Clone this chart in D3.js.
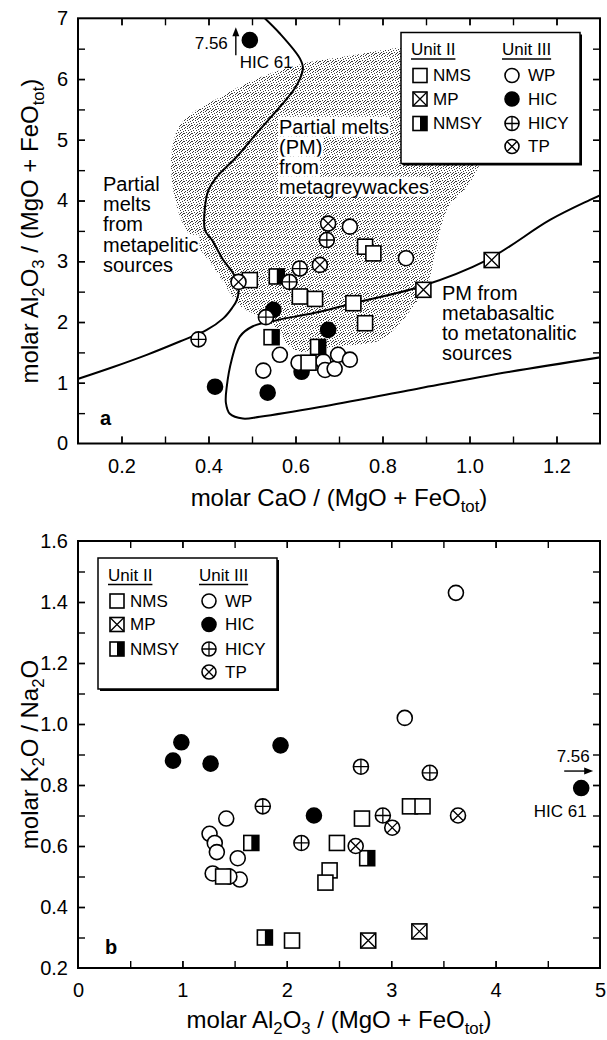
<!DOCTYPE html>
<html>
<head>
<meta charset="utf-8">
<script src="https://cdn.jsdelivr.net/npm/d3@7"></script>
<style>
html, body { margin: 0; padding: 0; background: #fff; }
svg { display: block; font-family: "Liberation Sans", Arial, Helvetica, sans-serif; }
</style>
</head>
<body>
<svg id="chart" width="607" height="1040"></svg>
<script>
// ---------- panel a: molar CaO/(MgO+FeOtot) vs molar Al2O3/(MgO+FeOtot) ----------
const nmsA  = [[0.495, 2.69], [0.61, 2.42], [0.645, 2.38], [0.76, 3.24], [0.779, 3.13], [0.733, 2.31], [0.76, 1.98], [0.63, 1.33]];
const mpA   = [[0.894, 2.53], [1.051, 3.02]];
const nmsyA = [[0.557, 2.75], [0.545, 1.75], [0.652, 1.59]];
const wpA   = [[0.725, 3.57], [0.854, 3.05], [0.564, 1.46], [0.607, 1.33], [0.526, 1.20], [0.664, 1.35], [0.668, 1.21], [0.69, 1.23], [0.698, 1.46], [0.725, 1.38]];
const hicA  = [[0.495, 6.64], [0.549, 2.20], [0.675, 1.87], [0.614, 1.18], [0.415, 0.935], [0.536, 0.837]];
const hicyA = [[0.586, 2.66], [0.61, 2.88], [0.672, 3.35], [0.532, 2.08], [0.377, 1.715]];
const tpA   = [[0.469, 2.66], [0.656, 2.94], [0.675, 3.62]];

// field boundaries (data units)
const pelitic = [[0.522, 7.05], [0.564, 6.75], [0.610, 6.34], [0.617, 6.18], [0.603, 5.90], [0.564, 5.54], [0.511, 5.11],
  [0.465, 4.72], [0.419, 4.39], [0.400, 4.17], [0.392, 3.90], [0.392, 3.51], [0.408, 3.35], [0.434, 3.02], [0.457, 2.80],
  [0.469, 2.58], [0.465, 2.36], [0.454, 2.23], [0.434, 2.06], [0.396, 1.87], [0.334, 1.68], [0.258, 1.46], [0.181, 1.26], [0.09, 1.04]];
const basaltic = [[1.32, 4.15], [1.277, 4.01], [1.185, 3.68], [1.04, 3.02], [0.886, 2.58], [0.733, 2.31], [0.656, 2.17],
  [0.557, 2.03], [0.502, 1.93], [0.472, 1.76], [0.453, 1.37], [0.442, 0.935], [0.440, 0.67], [0.449, 0.49], [0.479, 0.41],
  [0.518, 0.44], [0.656, 0.60], [0.886, 0.91], [1.093, 1.18], [1.32, 1.44]];
const greywacke = [[0.316, 4.83], [0.330, 5.19], [0.357, 5.41], [0.426, 5.70], [0.502, 5.98], [0.610, 6.24], [0.732, 6.39],
  [0.833, 6.51], [0.932, 6.56], [1.047, 5.66], [1.024, 4.62], [1.015, 4.47], [0.992, 4.21], [0.955, 3.93], [0.939, 3.68],
  [0.921, 3.14], [0.902, 2.58], [0.870, 2.25], [0.833, 1.92], [0.794, 1.70], [0.732, 1.62], [0.656, 1.56], [0.610, 1.51],
  [0.583, 1.62], [0.560, 1.87], [0.523, 2.07], [0.479, 2.23], [0.454, 2.43], [0.431, 2.69], [0.403, 2.99], [0.369, 3.30],
  [0.339, 3.65], [0.321, 4.09], [0.314, 4.50]];

const aXTicks  = [0.2, 0.3, 0.4, 0.5, 0.6, 0.7, 0.8, 0.9, 1.0, 1.1, 1.2];
const aXLabels = [0.2, 0.4, 0.6, 0.8, 1.0, 1.2];
const aYTicks  = [0.5, 1, 1.5, 2, 2.5, 3, 3.5, 4, 4.5, 5, 5.5, 6, 6.5];
const aYLabels = [0, 1, 2, 3, 4, 5, 6, 7];

// ---------- panel b: molar Al2O3/(MgO+FeOtot) vs molar K2O/Na2O ----------
const nmsB  = [[1.39, 0.50], [2.48, 0.61], [2.41, 0.52], [2.37, 0.48], [2.05, 0.29], [2.72, 0.69], [3.18, 0.73], [3.30, 0.73]];
const mpB   = [[2.78, 0.29], [3.27, 0.32]];
const nmsyB = [[1.66, 0.61], [1.79, 0.30], [2.77, 0.56]];
const wpB   = [[1.42, 0.69], [1.26, 0.64], [1.31, 0.61], [1.33, 0.58], [1.53, 0.56], [1.29, 0.51], [1.55, 0.49], [1.45, 0.50], [3.13, 1.02], [3.62, 1.43]];
const hicB  = [[0.99, 0.94], [0.91, 0.88], [1.27, 0.87], [1.94, 0.93], [2.26, 0.70], [4.82, 0.79]];
const hicyB = [[1.77, 0.73], [2.14, 0.61], [2.71, 0.86], [3.37, 0.84], [2.92, 0.70]];
const tpB   = [[2.66, 0.60], [3.01, 0.66], [3.64, 0.70]];

const bXTicks  = [0.5, 1, 1.5, 2, 2.5, 3, 3.5, 4, 4.5];
const bXLabels = [0, 1, 2, 3, 4, 5];
const bYTicks  = [0.3, 0.4, 0.5, 0.6, 0.7, 0.8, 0.9, 1.0, 1.1, 1.2, 1.3, 1.4, 1.5];
const bYLabels = [0.2, 0.4, 0.6, 0.8, 1.0, 1.2, 1.4, 1.6];

const hic61 = '7.56';   // true value of the off-scale HIC 61 sample

const titleAlFe = ['molar Al', ['2'], 'O', ['3'], ' / (MgO + FeO', ['tot'], ')'];
const titleCa   = ['molar CaO / (MgO + FeO', ['tot'], ')'];
const titleK    = ['molar K', ['2'], 'O / Na', ['2'], 'O'];

// ---------- drawing ----------
const svg = d3.select('#chart');
const defs = svg.append('defs');

// irregular stipple tile
const pat = defs.append('pattern').attr('id', 'stipple')
  .attr('width', 8).attr('height', 8).attr('patternUnits', 'userSpaceOnUse');
pat.append('rect').attr('width', 8).attr('height', 8).attr('fill', '#fff');
[[0, 0], [3, 0], [6, 1], [1, 2], [4, 2], [7, 3], [2, 4], [5, 4], [0, 5], [3, 6], [6, 6], [1, 7], [5, 7], [7, 5], [4, 5]]
  .forEach(([px, py]) =>
    pat.append('rect').attr('x', px).attr('y', py).attr('width', 1).attr('height', 1).attr('fill', '#3a3a3a'));

const xA = d3.scaleLinear().domain([0.1, 1.3]).range([78, 600]);
const yA = d3.scaleLinear().domain([0, 7]).range([443.5, 18.3]);
const xB = d3.scaleLinear().domain([0, 5]).range([78, 600]);
const yB = d3.scaleLinear().domain([0.2, 1.6]).range([968, 541]);

function clipFor(id, x, y) {
  defs.append('clipPath').attr('id', id).append('rect')
    .attr('x', x.range()[0]).attr('y', y.range()[1])
    .attr('width', x.range()[1] - x.range()[0]).attr('height', y.range()[0] - y.range()[1]);
  return `url(#${id})`;
}

function symbol(g, type, s) {
  const sw = 1.6;
  if (type === 'NMS' || type === 'MP' || type === 'NMSY') {
    g.append('rect').attr('x', -s).attr('y', -s).attr('width', 2 * s).attr('height', 2 * s)
      .attr('fill', '#fff').attr('stroke', '#000').attr('stroke-width', sw);
    if (type === 'MP') {
      g.append('path').attr('d', `M${-s},${-s}L${s},${s}M${s},${-s}L${-s},${s}`)
        .attr('stroke', '#000').attr('stroke-width', 1.3);
    }
    if (type === 'NMSY') {
      g.append('rect').attr('x', 0).attr('y', -s).attr('width', s).attr('height', 2 * s).attr('fill', '#000');
    }
  } else {
    g.append('circle').attr('r', s)
      .attr('fill', type === 'HIC' ? '#000' : '#fff').attr('stroke', '#000').attr('stroke-width', sw);
    if (type === 'HICY') {
      g.append('path').attr('d', `M${-s},0H${s}M0,${-s}V${s}`).attr('stroke', '#000').attr('stroke-width', 1.3);
    }
    if (type === 'TP') {
      const d = s * 0.7071;
      g.append('path').attr('d', `M${-d},${-d}L${d},${d}M${d},${-d}L${-d},${d}`).attr('stroke', '#000').attr('stroke-width', 1.3);
    }
  }
}

function drawPoints(g, series, x, y) {
  series.forEach(([type, pts]) => {
    g.append('g').selectAll('g').data(pts).join('g')
      .attr('transform', d => `translate(${x(d[0])},${y(d[1])})`)
      .each(function () { symbol(d3.select(this), type, 7.5); });
  });
}

function drawAxes(g, x, y, xt, xl, yt, yl, fx, fy) {
  const [x0, x1] = x.range();
  const [y0, y1] = y.range();
  const xAll = xt.concat(xl.filter(v => v > x.domain()[0] && v < x.domain()[1]));
  const yAll = yt.concat(yl.filter(v => v > y.domain()[0] && v < y.domain()[1]));

  const style = sel => {
    sel.attr('font-size', 20).attr('font-family', null);
    sel.select('.domain').remove();
    sel.selectAll('.tick line').attr('stroke-width', 1.4);
    sel.selectAll('.tick text').attr('fill', '#000');
  };

  g.append('g').attr('transform', `translate(0,${y0})`)
    .call(d3.axisBottom(x).tickValues(xAll).tickSizeInner(-7).tickSizeOuter(0).tickFormat(() => ''))
    .call(style);
  g.append('g').attr('transform', `translate(0,${y1})`)
    .call(d3.axisTop(x).tickValues(xAll).tickSizeInner(-7).tickSizeOuter(0).tickFormat(() => ''))
    .call(style);
  g.append('g').attr('transform', `translate(${x0},0)`)
    .call(d3.axisLeft(y).tickValues(yAll).tickSizeInner(-7).tickSizeOuter(0).tickFormat(() => ''))
    .call(style);
  g.append('g').attr('transform', `translate(${x1},0)`)
    .call(d3.axisRight(y).tickValues(yAll).tickSizeInner(-7).tickSizeOuter(0).tickFormat(() => ''))
    .call(style);

  // labels (including the corner values)
  g.append('g').attr('transform', `translate(0,${y0})`)
    .call(d3.axisBottom(x).tickValues(xl).tickSize(0).tickPadding(15).tickFormat(fx))
    .call(style);
  g.append('g').attr('transform', `translate(${x0},0)`)
    .call(d3.axisLeft(y).tickValues(yl).tickSize(0).tickPadding(10).tickFormat(fy))
    .call(style);

  g.append('rect').attr('x', x0).attr('y', y1).attr('width', x1 - x0).attr('height', y0 - y1)
    .attr('fill', 'none').attr('stroke', '#000').attr('stroke-width', 2);
}

function richText(g, x, y, parts, size, rotate) {
  const t = g.append('text').attr('font-size', size).attr('text-anchor', 'middle').attr('fill', '#000');
  if (rotate) t.attr('transform', `translate(${x},${y}) rotate(-90)`).attr('dy', '0.35em');
  else t.attr('x', x).attr('y', y).attr('dy', '0.35em');
  const off = size * 0.25;
  let lowered = false;
  parts.forEach(p => {
    const sub = Array.isArray(p);
    const ts = t.append('tspan').text(sub ? p[0] : p);
    if (sub) { ts.attr('font-size', size * 0.7).attr('dy', off); lowered = true; }
    else if (lowered) { ts.attr('dy', -off); lowered = false; }
  });
  return t;
}

function textLines(g, x, y0, step, lines, size, boxed) {
  lines.forEach((s, i) => {
    const t = g.append('text').attr('x', x).attr('y', y0 + i * step).attr('dy', '0.35em')
      .attr('font-size', size).attr('fill', '#000').text(s);
    if (boxed) {
      const b = t.node().getBBox();
      g.insert('rect', () => t.node()).attr('x', b.x - 1).attr('y', b.y + 1)
        .attr('width', b.width + 2).attr('height', b.height - 2).attr('fill', '#fff');
    }
  });
}

function legend(g, bx, by) {
  const w = 179, h = 131;
  g.append('rect').attr('x', bx + 2).attr('y', by + 2).attr('width', w).attr('height', h).attr('fill', '#000');
  g.append('rect').attr('x', bx).attr('y', by).attr('width', w).attr('height', h)
    .attr('fill', '#fff').attr('stroke', '#000').attr('stroke-width', 1.5);
  const cols = [
    { head: 'Unit II', tx: 10, sx: 19, lx: 32, items: ['NMS', 'MP', 'NMSY'] },
    { head: 'Unit III', tx: 101, sx: 111, lx: 127, items: ['WP', 'HIC', 'HICY', 'TP'] }
  ];
  const rows = [43, 66.5, 91, 114];
  cols.forEach(c => {
    const t = g.append('text').attr('x', bx + c.tx).attr('y', by + 17).attr('dy', '0.35em')
      .attr('font-size', 17).text(c.head);
    const b = t.node().getBBox();
    g.append('line').attr('x1', b.x).attr('x2', b.x + b.width)
      .attr('y1', by + 26.5).attr('y2', by + 26.5).attr('stroke', '#000').attr('stroke-width', 1.4);
    c.items.forEach((name, i) => {
      const sg = g.append('g').attr('transform', `translate(${bx + c.sx},${by + rows[i]})`);
      symbol(sg, name, 7);
      g.append('text').attr('x', bx + c.lx).attr('y', by + rows[i]).attr('dy', '0.35em')
        .attr('font-size', 17).text(name);
    });
  });
}

function arrowHead(g, x, y, dir) {
  // dir: 'up' or 'right'
  const d = dir === 'up' ? `M${x},${y}L${x - 3.5},${y + 9}L${x + 3.5},${y + 9}Z`
                         : `M${x},${y}L${x - 9},${y - 3.5}L${x - 9},${y + 3.5}Z`;
  g.append('path').attr('d', d).attr('fill', '#000');
}

// ----- panel a -----
const ga = svg.append('g');
const clipA = clipFor('clipA', xA, yA);
const line = d3.line().x(d => xA(d[0])).y(d => yA(d[1]));

ga.append('path').attr('clip-path', clipA)
  .attr('d', line.curve(d3.curveCatmullRomClosed.alpha(0.5))(greywacke))
  .attr('fill', 'url(#stipple)');
ga.append('path').attr('clip-path', clipA)
  .attr('d', line.curve(d3.curveCatmullRom.alpha(0.5))(pelitic))
  .attr('fill', 'none').attr('stroke', '#000').attr('stroke-width', 2);
ga.append('path').attr('clip-path', clipA)
  .attr('d', line.curve(d3.curveCatmullRom.alpha(0.5))(basaltic))
  .attr('fill', 'none').attr('stroke', '#000').attr('stroke-width', 2);

textLines(ga, 279, 126.7, 20, ['Partial melts', '(PM)', 'from', 'metagreywackes'], 20, true);
textLines(ga, 103, 183.5, 20.4, ['Partial', 'melts', 'from', 'metapelitic', 'sources'], 20, true);
textLines(ga, 442, 292.7, 20.2, ['PM from', 'metabasaltic', 'to metatonalitic', 'sources'], 20, false);

drawPoints(ga, [['HIC', hicA], ['WP', wpA], ['NMS', nmsA], ['NMSY', nmsyA], ['MP', mpA], ['HICY', hicyA], ['TP', tpA]], xA, yA);

// off-scale HIC 61 marker
{
  const px = xA(hicA[0][0]), py = yA(hicA[0][1]);
  ga.append('text').attr('x', px - 22).attr('y', py + 3).attr('dy', '0.35em')
    .attr('text-anchor', 'end').attr('font-size', 17).text(hic61);
  ga.append('line').attr('x1', px - 14).attr('x2', px - 14).attr('y1', py + 15).attr('y2', py - 5)
    .attr('stroke', '#000').attr('stroke-width', 1.4);
  arrowHead(ga, px - 14, py - 13, 'up');
  ga.append('text').attr('x', px - 10).attr('y', py + 21.5).attr('dy', '0.35em')
    .attr('font-size', 17).text('HIC 61');
}

legend(ga, 401, 32.5);
drawAxes(ga, xA, yA, aXTicks, aXLabels, aYTicks, aYLabels, d3.format('.1f'), d3.format('d'));
ga.append('text').attr('x', 100).attr('y', 418.3).attr('dy', '0.35em')
  .attr('font-size', 20).attr('font-weight', 'bold').text('a');
richText(ga, 339, 498, titleCa, 24, false);
richText(ga, 30, 231, titleAlFe, 24, true);

// ----- panel b -----
const gb = svg.append('g');
drawPoints(gb, [['HIC', hicB], ['WP', wpB], ['NMS', nmsB], ['NMSY', nmsyB], ['MP', mpB], ['HICY', hicyB], ['TP', tpB]], xB, yB);

{
  const last = hicB[hicB.length - 1];
  const px = xB(last[0]), py = yB(last[1]);
  gb.append('text').attr('x', px - 8).attr('y', py - 32).attr('dy', '0.35em')
    .attr('text-anchor', 'middle').attr('font-size', 17).text(hic61);
  gb.append('line').attr('x1', px - 17).attr('x2', px + 4).attr('y1', py - 17).attr('y2', py - 17)
    .attr('stroke', '#000').attr('stroke-width', 1.4);
  arrowHead(gb, px + 12, py - 17, 'right');
  gb.append('text').attr('x', px - 21).attr('y', py + 23).attr('dy', '0.35em')
    .attr('text-anchor', 'middle').attr('font-size', 17).text('HIC 61');
}

legend(gb, 98, 558);
drawAxes(gb, xB, yB, bXTicks, bXLabels, bYTicks, bYLabels, d3.format('d'), d3.format('.1f'));
gb.append('text').attr('x', 105).attr('y', 946.7).attr('dy', '0.35em')
  .attr('font-size', 20).attr('font-weight', 'bold').text('b');
richText(gb, 339, 1020, titleAlFe, 24, false);
richText(gb, 30, 754.5, titleK, 24, true);
</script>
</body>
</html>
